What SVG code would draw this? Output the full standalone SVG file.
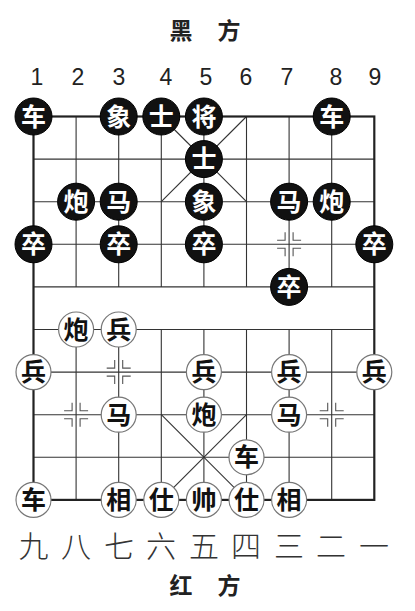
<svg xmlns="http://www.w3.org/2000/svg" xmlns:xlink="http://www.w3.org/1999/xlink" width="415" height="611" viewBox="0 0 415 611">
<defs>
<style>
.thin{stroke:#333;stroke-width:1.1;fill:none}
.thick{stroke:#222;stroke-width:2.2;fill:none}
.mk{stroke:#555;stroke-width:1.1;fill:none}
.bp circle{fill:#111;stroke:#000;stroke-width:1}
.bp text{fill:#fff;font-family:"Noto Sans CJK SC",sans-serif;font-weight:bold;font-size:25px;text-anchor:middle}
.rp circle{fill:#fff;stroke:#777;stroke-width:1.2}
.rp text{fill:#111;font-family:"Noto Sans CJK SC",sans-serif;font-weight:bold;font-size:25px;text-anchor:middle}
.num{fill:#222;font-family:"Liberation Sans",Arial,sans-serif;font-size:23px;text-anchor:middle}
.cn{fill:#333;font-family:"Noto Sans CJK SC",sans-serif;font-weight:300;font-size:30px;text-anchor:middle}
.side{fill:#222;font-family:"Noto Sans CJK SC",sans-serif;font-weight:bold;font-size:23px;text-anchor:middle}
</style>
<g id="mark" class="mk">
<polyline points="-4,-12 -4,-4 -12,-4"/>
<polyline points="4,-12 4,-4 12,-4"/>
<polyline points="-4,12 -4,4 -12,4"/>
<polyline points="4,12 4,4 12,4"/>
</g>
</defs>
<rect width="415" height="611" fill="#fff"/>
<g id="labels">
<text class="side" x="181" y="39">黑</text>
<text class="side" x="229" y="39">方</text>
<text class="num" x="37" y="85">1</text>
<text class="num" x="78" y="85">2</text>
<text class="num" x="119" y="85">3</text>
<text class="num" x="166" y="85">4</text>
<text class="num" x="206" y="85">5</text>
<text class="num" x="246" y="85">6</text>
<text class="num" x="287" y="85">7</text>
<text class="num" x="336" y="85">8</text>
<text class="num" x="375" y="85">9</text>
<text class="cn" x="33.5" y="557">九</text>
<text class="cn" x="76" y="557">八</text>
<text class="cn" x="119" y="557">七</text>
<text class="cn" x="161" y="557">六</text>
<text class="cn" x="204" y="557">五</text>
<text class="cn" x="246" y="557">四</text>
<text class="cn" x="289" y="557">三</text>
<text class="cn" x="331" y="557">二</text>
<text class="cn" x="374" y="557">一</text>
<text class="side" x="181" y="594">红</text>
<text class="side" x="229" y="594">方</text>
</g>
<g id="board">
<g class="thin">
<line x1="33.5" y1="159.1" x2="374.3" y2="159.1"/>
<line x1="33.5" y1="201.7" x2="374.3" y2="201.7"/>
<line x1="33.5" y1="244.3" x2="374.3" y2="244.3"/>
<line x1="33.5" y1="286.9" x2="374.3" y2="286.9"/>
<line x1="33.5" y1="329.5" x2="374.3" y2="329.5"/>
<line x1="33.5" y1="372.1" x2="374.3" y2="372.1"/>
<line x1="33.5" y1="414.7" x2="374.3" y2="414.7"/>
<line x1="33.5" y1="457.3" x2="374.3" y2="457.3"/>
<line x1="76.1" y1="116.5" x2="76.1" y2="286.9"/>
<line x1="118.7" y1="116.5" x2="118.7" y2="286.9"/>
<line x1="161.3" y1="116.5" x2="161.3" y2="286.9"/>
<line x1="203.9" y1="116.5" x2="203.9" y2="286.9"/>
<line x1="246.5" y1="116.5" x2="246.5" y2="286.9"/>
<line x1="289.1" y1="116.5" x2="289.1" y2="286.9"/>
<line x1="331.7" y1="116.5" x2="331.7" y2="286.9"/>
<line x1="76.1" y1="329.5" x2="76.1" y2="499.9"/>
<line x1="118.7" y1="329.5" x2="118.7" y2="499.9"/>
<line x1="161.3" y1="329.5" x2="161.3" y2="499.9"/>
<line x1="203.9" y1="329.5" x2="203.9" y2="499.9"/>
<line x1="246.5" y1="329.5" x2="246.5" y2="499.9"/>
<line x1="289.1" y1="329.5" x2="289.1" y2="499.9"/>
<line x1="331.7" y1="329.5" x2="331.7" y2="499.9"/>
<line x1="161.3" y1="116.5" x2="246.5" y2="201.7"/>
<line x1="246.5" y1="116.5" x2="161.3" y2="201.7"/>
<line x1="161.3" y1="414.7" x2="246.5" y2="499.9"/>
<line x1="246.5" y1="414.7" x2="161.3" y2="499.9"/>
</g>
<rect class="thick" x="33.5" y="116.5" width="340.8" height="383.4"/>
<use xlink:href="#mark" x="289.1" y="244.3"/>
<use xlink:href="#mark" x="118.7" y="372.1"/>
<use xlink:href="#mark" x="76.1" y="414.7"/>
<use xlink:href="#mark" x="331.7" y="414.7"/>
</g>
<g id="black-pieces">
<g id="b-che1" class="bp"><circle cx="33.5" cy="116.5" r="18.5"/><text x="33.5" y="125.5">车</text></g>
<g id="b-xiang1" class="bp"><circle cx="118.7" cy="116.5" r="18.5"/><text x="118.7" y="125.5">象</text></g>
<g id="b-shi1" class="bp"><circle cx="161.3" cy="116.5" r="18.5"/><text x="161.3" y="125.5">士</text></g>
<g id="b-jiang" class="bp"><circle cx="203.9" cy="116.5" r="18.5"/><text x="203.9" y="125.5">将</text></g>
<g id="b-che2" class="bp"><circle cx="331.7" cy="116.5" r="18.5"/><text x="331.7" y="125.5">车</text></g>
<g id="b-shi2" class="bp"><circle cx="203.9" cy="159.1" r="18.5"/><text x="203.9" y="168.1">士</text></g>
<g id="b-pao1" class="bp"><circle cx="76.1" cy="201.7" r="18.5"/><text x="76.1" y="210.7">炮</text></g>
<g id="b-ma1" class="bp"><circle cx="118.7" cy="201.7" r="18.5"/><text x="118.7" y="210.7">马</text></g>
<g id="b-xiang2" class="bp"><circle cx="203.9" cy="201.7" r="18.5"/><text x="203.9" y="210.7">象</text></g>
<g id="b-ma2" class="bp"><circle cx="289.1" cy="201.7" r="18.5"/><text x="289.1" y="210.7">马</text></g>
<g id="b-pao2" class="bp"><circle cx="331.7" cy="201.7" r="18.5"/><text x="331.7" y="210.7">炮</text></g>
<g id="b-zu1" class="bp"><circle cx="33.5" cy="244.3" r="18.5"/><text x="33.5" y="253.3">卒</text></g>
<g id="b-zu3" class="bp"><circle cx="118.7" cy="244.3" r="18.5"/><text x="118.7" y="253.3">卒</text></g>
<g id="b-zu5" class="bp"><circle cx="203.9" cy="244.3" r="18.5"/><text x="203.9" y="253.3">卒</text></g>
<g id="b-zu9" class="bp"><circle cx="374.3" cy="244.3" r="18.5"/><text x="374.3" y="253.3">卒</text></g>
<g id="b-zu7" class="bp"><circle cx="289.1" cy="286.9" r="18.5"/><text x="289.1" y="295.9">卒</text></g>
</g>
<g id="red-pieces">
<g id="r-pao1" class="rp"><circle cx="76.1" cy="329.5" r="17.5"/><text x="76.1" y="338.5">炮</text></g>
<g id="r-bing3" class="rp"><circle cx="118.7" cy="329.5" r="17.5"/><text x="118.7" y="338.5">兵</text></g>
<g id="r-bing1" class="rp"><circle cx="33.5" cy="372.1" r="17.5"/><text x="33.5" y="381.1">兵</text></g>
<g id="r-bing5" class="rp"><circle cx="203.9" cy="372.1" r="17.5"/><text x="203.9" y="381.1">兵</text></g>
<g id="r-bing7" class="rp"><circle cx="289.1" cy="372.1" r="17.5"/><text x="289.1" y="381.1">兵</text></g>
<g id="r-bing9" class="rp"><circle cx="374.3" cy="372.1" r="17.5"/><text x="374.3" y="381.1">兵</text></g>
<g id="r-ma1" class="rp"><circle cx="118.7" cy="414.7" r="17.5"/><text x="118.7" y="423.7">马</text></g>
<g id="r-pao2" class="rp"><circle cx="203.9" cy="414.7" r="17.5"/><text x="203.9" y="423.7">炮</text></g>
<g id="r-ma2" class="rp"><circle cx="289.1" cy="414.7" r="17.5"/><text x="289.1" y="423.7">马</text></g>
<g id="r-che2" class="rp"><circle cx="246.5" cy="457.3" r="17.5"/><text x="246.5" y="466.3">车</text></g>
<g id="r-che1" class="rp"><circle cx="33.5" cy="499.9" r="17.5"/><text x="33.5" y="508.9">车</text></g>
<g id="r-xiang1" class="rp"><circle cx="118.7" cy="499.9" r="17.5"/><text x="118.7" y="508.9">相</text></g>
<g id="r-shi1" class="rp"><circle cx="161.3" cy="499.9" r="17.5"/><text x="161.3" y="508.9">仕</text></g>
<g id="r-shuai" class="rp"><circle cx="203.9" cy="499.9" r="17.5"/><text x="203.9" y="508.9">帅</text></g>
<g id="r-shi2" class="rp"><circle cx="246.5" cy="499.9" r="17.5"/><text x="246.5" y="508.9">仕</text></g>
<g id="r-xiang2" class="rp"><circle cx="289.1" cy="499.9" r="17.5"/><text x="289.1" y="508.9">相</text></g>
</g>
</svg>
